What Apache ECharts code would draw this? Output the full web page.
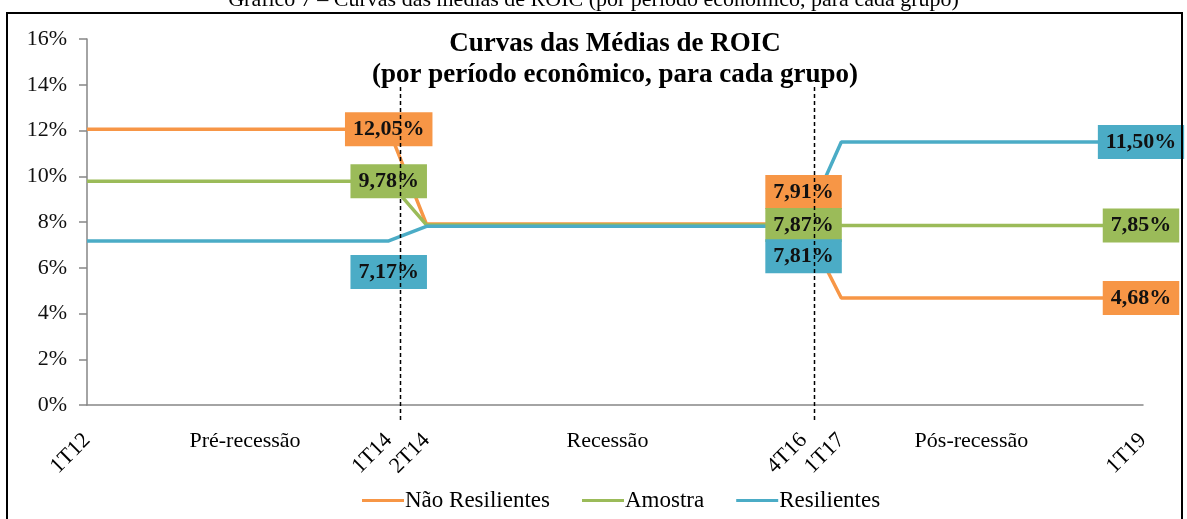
<!DOCTYPE html>
<html>
<head>
<meta charset="utf-8">
<script src="https://cdn.jsdelivr.net/npm/echarts@6/dist/echarts.min.js"></script>
<style>
  html, body { margin: 0; padding: 0; background: #fff; }
  #main { width: 1187px; height: 519px; }
</style>
</head>
<body>
<div id="main"></div>
<script>
// quarters on the x axis
const quarters = ['1T12', '2T12', '3T12', '4T12', '1T13', '2T13', '3T13', '4T13',
  '1T14', '2T14', '3T14', '4T14', '1T15', '2T15', '3T15', '4T15',
  '1T16', '2T16', '3T16', '4T16', '1T17', '2T17', '3T17', '4T17',
  '1T18', '2T18', '3T18', '4T18', '1T19'];
const shownQuarters = ['1T12', '1T14', '2T14', '4T16', '1T17', '1T19'];

// mean ROIC (%) per quarter
const naoResilientes = [12.05, 12.05, 12.05, 12.05, 12.05, 12.05, 12.05, 12.05, 12.05,
  7.91, 7.91, 7.91, 7.91, 7.91, 7.91, 7.91, 7.91, 7.91, 7.91, 7.91,
  4.68, 4.68, 4.68, 4.68, 4.68, 4.68, 4.68, 4.68, 4.68];
const amostra = [9.78, 9.78, 9.78, 9.78, 9.78, 9.78, 9.78, 9.78, 9.78,
  7.87, 7.87, 7.87, 7.87, 7.87, 7.87, 7.87, 7.87, 7.87, 7.87, 7.87,
  7.85, 7.85, 7.85, 7.85, 7.85, 7.85, 7.85, 7.85, 7.85];
const resilientes = [7.17, 7.17, 7.17, 7.17, 7.17, 7.17, 7.17, 7.17, 7.17,
  7.81, 7.81, 7.81, 7.81, 7.81, 7.81, 7.81, 7.81, 7.81, 7.81, 7.81,
  11.50, 11.50, 11.50, 11.50, 11.50, 11.50, 11.50, 11.50, 11.50];

const labelledIdx = [8, 19, 28];

// period names and where they sit (in quarter units) plus the two dividers
const periodNames = ['Pré-recessão', 'Recessão', 'Pós-recessão'];
const periodPos = [4.19, 13.8, 23.45];
const dividerPos = [8.3, 19.28];

const FONT = 'Liberation Serif';
const colors = ['#F79646', '#9BBB59', '#4BACC6'];

function withLabels(values, offsets) {
  return values.map(function (v, i) {
    const k = labelledIdx.indexOf(i);
    if (k < 0) return v;
    return { value: v, label: { show: true, offset: offsets[k] } };
  });
}

function makeSeries(name, values, color, offsets) {
  return {
    name: name,
    type: 'line',
    data: withLabels(values, offsets),
    color: color,
    symbol: 'circle',
    symbolSize: 0,
    lineStyle: { width: 3.5, color: color },
    itemStyle: { color: color },
    animation: false,
    label: {
      show: false,
      position: 'inside',
      backgroundColor: color,
      padding: [7, 8, 5, 8],
      color: '#111',
      fontFamily: FONT,
      fontWeight: 'bold',
      fontSize: 22,
      formatter: function (p) {
        return p.value.toFixed(2).replace('.', ',') + '%';
      }
    },
    emphasis: { disabled: true }
  };
}

const chart = echarts.init(document.getElementById('main'));

chart.setOption({
  backgroundColor: '#fff',
  animation: false,
  title: {
    text: 'Curvas das Médias de ROIC\n(por período econômico, para cada grupo)',
    left: 610,
    top: 24,
    textAlign: 'center',
    textStyle: {
      fontFamily: FONT,
      fontWeight: 'bold',
      fontSize: 27,
      lineHeight: 31,
      color: '#000'
    }
  },
  legend: {
    data: ['Não Resilientes', 'Amostra', 'Resilientes'],
    left: 357,
    top: 484,
    icon: 'rect',
    itemWidth: 42,
    itemHeight: 3,
    itemGap: 32,
    textStyle: { fontFamily: FONT, fontSize: 23, color: '#000', padding: [0, 0, 0, -4] }
  },
  grid: { left: 87, right: 44, top: 39, bottom: 114 },
  xAxis: [{
    type: 'category',
    data: quarters,
    boundaryGap: false,
    axisLine: { lineStyle: { color: '#868686', width: 1.5 } },
    axisTick: { show: false },
    axisLabel: {
      interval: function (idx, val) { return shownQuarters.indexOf(val) >= 0; },
      rotate: 45,
      margin: 32,
      fontFamily: FONT,
      fontSize: 22,
      color: '#000'
    },
    splitLine: { show: false }
  }, {
    type: 'value',
    min: 0,
    max: 28,
    show: false
  }],
  yAxis: {
    type: 'value',
    min: 0,
    max: 16,
    interval: 2,
    axisLine: { show: true, lineStyle: { color: '#868686', width: 1.5 } },
    axisTick: { show: true, length: 8, lineStyle: { color: '#868686', width: 1.5 } },
    axisLabel: {
      formatter: '{value}%',
      margin: 20,
      fontFamily: FONT,
      fontSize: 22,
      color: '#111'
    },
    splitLine: { show: false }
  },
  series: [
    makeSeries('Não Resilientes', naoResilientes, colors[0], [[0, 0], [0, -32], [-2, 0]]),
    makeSeries('Amostra', amostra, colors[1], [[0, 0], [0, 0], [-2, 0]]),
    makeSeries('Resilientes', resilientes, colors[2], [[0, 31], [0, 30], [-2, 0]])
  ]
});

// dividers and period names, placed through the hidden quarter-value axis
const gfx = [
  {
    type: 'text',
    left: 'center',
    top: -11,
    style: {
      text: 'Gráfico 7 – Curvas das médias de ROIC (por período econômico, para cada grupo)',
      font: '22px "Liberation Serif"',
      fill: '#000'
    },
    z: 10
  },
  {
    type: 'rect',
    shape: { x: 7, y: 13, width: 1175, height: 530 },
    style: { fill: null, stroke: '#000', lineWidth: 2 },
    z: 10
  }
];
const yTop = chart.convertToPixel({ yAxisIndex: 0 }, 13.9);
dividerPos.forEach(function (q) {
  const x = Math.round(chart.convertToPixel({ xAxisIndex: 1 }, q)) + 0.5;
  gfx.push({
    type: 'line',
    shape: { x1: x, y1: yTop, x2: x, y2: 422 },
    style: { stroke: '#000', lineWidth: 1.5, lineDash: [4, 3] },
    z: 5
  });
});
periodNames.forEach(function (name, i) {
  const x = chart.convertToPixel({ xAxisIndex: 1 }, periodPos[i]);
  gfx.push({
    type: 'text',
    x: x,
    y: 441,
    style: {
      text: name,
      font: '22px "Liberation Serif"',
      fill: '#000',
      align: 'center',
      verticalAlign: 'middle'
    },
    z: 5
  });
});
chart.setOption({ graphic: gfx });
</script>
</body>
</html>
